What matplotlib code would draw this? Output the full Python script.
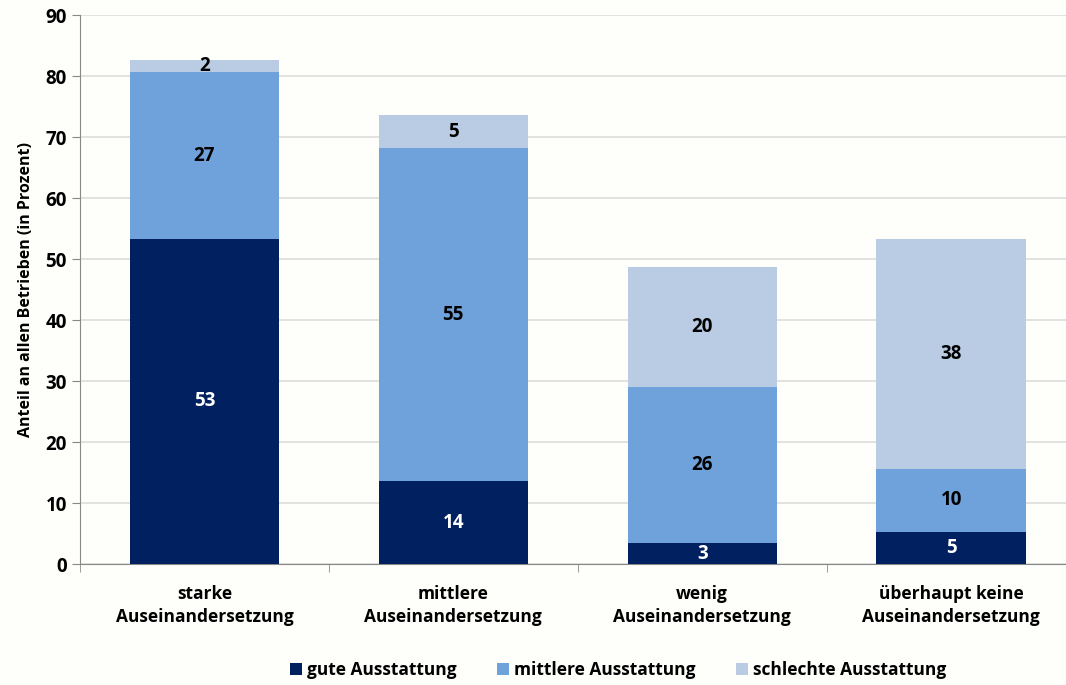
import matplotlib
matplotlib.use("Agg")
import matplotlib.pyplot as plt
import numpy as np

categories = ["starke\nAuseinandersetzung", "mittlere\nAuseinandersetzung",
              "wenig\nAuseinandersetzung", "überhaupt keine\nAuseinandersetzung"]
gute      = [53.3, 13.6, 3.4, 5.3]
mittlere  = [27.3, 54.6, 25.7, 10.3]
schlechte = [2.0, 5.4, 19.6, 37.6]
series_names = ["gute Ausstattung", "mittlere Ausstattung", "schlechte Ausstattung"]

colors = ["#00205F", "#6FA1DA", "#B9CCE4"]
text_colors = ["white", "black", "black"]
bg = "#FEFEFA"

plt.rcParams['font.family'] = ['Open Sans', 'DejaVu Sans']
plt.rcParams['font.weight'] = 'bold'

fig = plt.figure(figsize=(10.66, 6.85), dpi=100, facecolor=bg)
ax = fig.add_axes([0.075, 0.1766, 0.934, 0.8015], facecolor=bg)

x = np.arange(len(categories))
bottom = np.zeros(len(categories))
for vals, name, c, tc in zip([gute, mittlere, schlechte], series_names, colors, text_colors):
    bars = ax.bar(x, vals, 0.6, bottom=bottom, color=c, label=name, zorder=3)
    ax.bar_label(bars, labels=[f"{v:.0f}" for v in vals], label_type="center",
                 color=tc, fontsize=13.5, fontweight="bold")
    bottom += np.array(vals)

ax.set_xlim(-0.5, len(categories) - 0.5)
ax.set_ylim(0, 90)
ax.set_yticks(range(0, 91, 10))
ax.set_xticks(x)
ax.set_xticklabels(categories, fontsize=12.5, fontweight="bold", linespacing=1.4)
ax.set_xticks(np.arange(-0.5, len(categories), 1), minor=True)
ax.tick_params(axis="x", which="major", length=0, pad=15)
ax.tick_params(axis="x", which="minor", length=6, color="#888888")
ax.tick_params(axis="y", length=6, color="#888888", labelsize=13.5)
for lab in ax.get_yticklabels():
    lab.set_fontweight("bold")
ax.grid(axis="y", color="#DDDDDD", linewidth=1.2, zorder=0)
for s in ["top", "right"]:
    ax.spines[s].set_visible(False)
ax.spines["left"].set_color("#888888")
ax.spines["bottom"].set_color("#888888")
ax.set_ylabel("Anteil an allen Betrieben (in Prozent)", fontsize=11.5, fontweight="bold", labelpad=8)

fig.legend(loc="lower center", bbox_to_anchor=(0.58, -0.014), ncol=3, frameon=False,
           fontsize=12.5, handlelength=0.7, handleheight=0.7, handletextpad=0.3, columnspacing=2.3)

fig.savefig("out.png", dpi=100, facecolor=bg)
